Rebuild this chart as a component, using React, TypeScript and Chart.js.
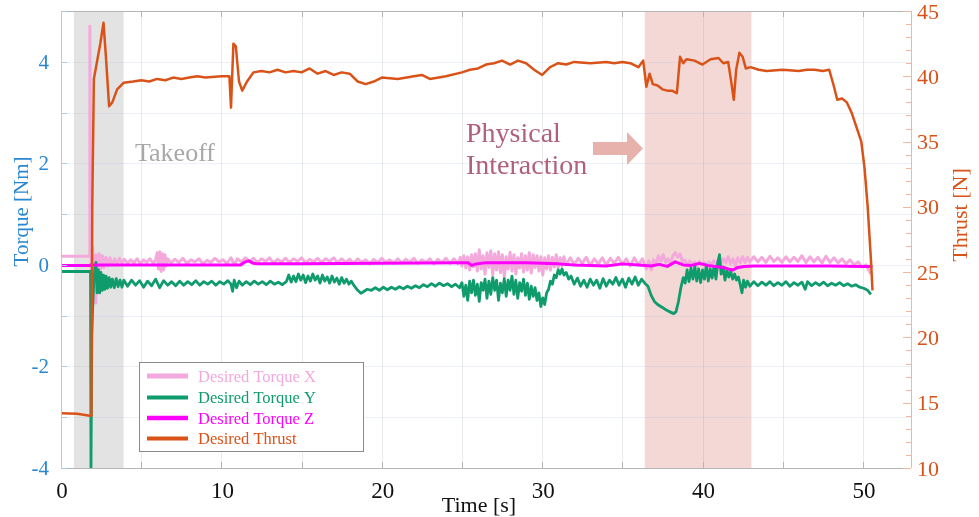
import React, { useEffect, useRef } from "react";
import { Chart, registerables } from "chart.js";

Chart.register(...registerables);

// ---------- DATA ----------
const xTicks = [0, 10, 20, 30, 40, 50];
const torqueTicks = [-4, -2, 0, 2, 4];
const thrustTicks = [10, 15, 20, 25, 30, 35, 40, 45];
const seriesNames = ["Desired Torque X", "Desired Torque Y", "Desired Torque Z", "Desired Thrust"];
const takeoffSpan = [0.8, 3.9];
const interactionSpan = [36.4, 43.05];

// Desired Thrust [N] vs time [s]
const thrust: [number, number][] = [
  [0, 14.2], [1.0, 14.15], [1.8, 14.0], [1.9, 14.0], [1.95, 30], [2.05, 39.8], [2.2, 40.8], [2.45, 42.5],
  [2.65, 44.1], [2.8, 41.5], [3.0, 37.7], [3.2, 38.0], [3.5, 39.0], [3.9, 39.5], [4.5, 39.6], [5.0, 39.7],
  [5.5, 39.6], [6.0, 39.8], [6.5, 39.7], [7.0, 39.9], [7.5, 39.8], [8.0, 39.9], [8.5, 40.0], [9.0, 39.9],
  [10.0, 40.0], [10.5, 40.0], [10.6, 37.6], [10.75, 42.5], [10.9, 42.3], [11.1, 39.6], [11.3, 38.9],
  [11.6, 39.6], [12.0, 40.3], [12.5, 40.4], [13.0, 40.3], [13.5, 40.5], [14.0, 40.3], [14.5, 40.4],
  [15.0, 40.3], [15.5, 40.6], [16.0, 40.2], [16.5, 40.4], [17.0, 40.1], [17.5, 40.3], [18.0, 40.2],
  [18.5, 39.6], [19.0, 39.4], [19.5, 39.6], [20.0, 39.9], [21.0, 39.8], [22.0, 40.0], [22.5, 40.1],
  [23.0, 39.8], [24.0, 40.0], [25.0, 40.3], [25.5, 40.5], [26.0, 40.6], [26.5, 40.9], [27.0, 41.0],
  [27.5, 41.2], [28.0, 40.9], [28.5, 41.2], [29.0, 41.0], [29.5, 40.5], [30.0, 40.1], [30.5, 40.7],
  [31.0, 41.0], [31.5, 40.9], [32.0, 41.1], [33.0, 41.0], [34.0, 41.1], [34.5, 41.0], [35.0, 41.1],
  [35.5, 41.0], [36.0, 40.7], [36.3, 41.2], [36.5, 39.2], [36.7, 40.2], [36.9, 39.4], [37.2, 39.3],
  [37.5, 39.0], [37.8, 38.9], [38.1, 38.9], [38.4, 38.7], [38.6, 41.5], [38.8, 41.0], [39.0, 41.3],
  [39.5, 41.2], [40.0, 40.9], [40.5, 41.3], [41.0, 41.4], [41.3, 41.0], [41.6, 41.1], [41.8, 39.5],
  [41.95, 38.2], [42.1, 40.5], [42.3, 41.8], [42.5, 41.5], [42.7, 40.6], [43.0, 40.7], [43.5, 40.5],
  [44.0, 40.4], [45.0, 40.5], [46.0, 40.4], [46.5, 40.5], [47.0, 40.5], [47.5, 40.4], [47.9, 40.5],
  [48.2, 39.2], [48.4, 38.2], [48.7, 38.3], [49.0, 38.0], [49.3, 37.2], [49.6, 36.1], [49.9, 35.0],
  [50.1, 33.0], [50.3, 30.0], [50.5, 26.0], [50.6, 23.6],
];

// Desired Torque X [Nm]
const torqueX: [number, number][] = [
  [0, 0.17], [1.76, 0.17], [1.8, 4.7], [1.84, 1.2], [1.9, -0.3], [1.97, 0.35], [2.05, -0.2], [2.12, -0.75],
  [2.18, 0.2], [2.28, -0.1], [2.38, 0.22], [2.48, -0.08], [2.58, 0.18], [2.68, -0.05], [2.8, 0.15],
  [2.92, -0.02], [3.05, 0.14], [3.2, 0.0], [3.35, 0.12], [3.5, 0.02], [3.65, 0.13], [3.8, 0.03], [3.95, 0.11],
  [4.15, 0.03], [4.35, 0.1], [4.55, 0.04], [4.75, 0.12], [4.95, 0.02], [5.15, 0.1], [5.35, 0.05], [5.55, 0.12],
  [5.75, 0.03], [5.9, 0.1], [6.0, 0.24], [6.08, -0.08], [6.16, 0.26], [6.24, -0.13], [6.32, 0.22], [6.4, -0.1],
  [6.48, 0.2], [6.56, -0.02], [6.65, 0.12], [6.85, 0.04], [7.1, 0.11], [7.35, 0.05], [7.6, 0.13], [7.85, 0.03],
  [8.1, 0.1], [8.35, 0.06], [8.6, 0.12], [8.85, 0.02], [9.1, 0.09], [9.35, 0.05], [9.6, 0.13], [9.85, 0.06],
  [10.1, 0.1], [10.35, 0.03], [10.6, 0.14], [10.8, 0.0], [11.0, 0.12], [11.25, 0.06], [11.5, 0.14],
  [11.75, 0.07], [12.0, 0.13], [12.25, 0.05], [12.5, 0.12], [12.75, 0.07], [13.0, 0.14], [13.25, 0.04],
  [13.5, 0.11], [13.75, 0.06], [14.0, 0.13], [14.25, 0.05], [14.5, 0.12], [14.75, 0.07], [15.0, 0.14],
  [15.25, 0.04], [15.5, 0.11], [15.75, 0.06], [16.0, 0.13], [16.25, 0.05], [16.5, 0.12], [16.75, 0.07],
  [17.0, 0.14], [17.25, 0.04], [17.5, 0.12], [17.75, 0.05], [18.0, 0.11], [18.25, 0.03], [18.5, 0.12],
  [18.75, 0.05], [19.0, 0.1], [19.25, 0.02], [19.5, 0.11], [19.75, 0.04], [20.0, 0.13], [20.25, 0.05],
  [20.5, 0.1], [20.75, 0.03], [21.0, 0.12], [21.25, 0.04], [21.5, 0.11], [21.75, 0.05], [22.0, 0.13],
  [22.25, 0.03], [22.5, 0.1], [22.75, 0.05], [23.0, 0.12], [23.25, 0.02], [23.5, 0.11], [23.75, 0.04],
  [24.0, 0.13], [24.25, 0.03], [24.5, 0.12], [24.75, 0.02], [24.9, 0.15], [25.0, -0.02], [25.12, 0.18],
  [25.24, -0.06], [25.36, 0.16], [25.48, -0.1], [25.6, 0.2], [25.72, -0.04], [25.84, 0.22], [25.96, -0.12],
  [26.08, 0.3], [26.2, -0.08], [26.32, 0.18], [26.44, -0.18], [26.56, 0.24], [26.68, -0.05], [26.8, 0.28],
  [26.92, -0.2], [27.04, 0.22], [27.16, -0.1], [27.28, 0.26], [27.4, -0.15], [27.52, 0.2], [27.64, -0.24],
  [27.76, 0.16], [27.88, -0.08], [28.0, 0.25], [28.12, -0.12], [28.24, 0.2], [28.36, -0.18], [28.48, 0.14],
  [28.6, -0.06], [28.72, 0.22], [28.84, -0.14], [28.96, 0.18], [29.08, -0.1], [29.2, 0.24], [29.32, -0.16],
  [29.44, 0.2], [29.56, -0.05], [29.68, 0.18], [29.8, -0.12], [29.92, 0.16], [30.04, -0.2], [30.16, 0.14],
  [30.28, -0.08], [30.4, 0.18], [30.52, -0.1], [30.64, 0.15], [30.76, -0.04], [30.88, 0.2], [31.0, -0.06],
  [31.12, 0.14], [31.24, -0.02], [31.36, 0.16], [31.5, 0.0], [31.75, 0.14], [32.0, 0.01], [32.25, 0.13],
  [32.5, 0.03], [32.75, 0.15], [33.0, -0.01], [33.25, 0.12], [33.5, 0.02], [33.75, 0.14], [34.0, 0.0],
  [34.25, 0.13], [34.5, 0.03], [34.75, 0.15], [35.0, 0.01], [35.25, 0.12], [35.5, -0.02], [35.75, 0.14],
  [36.0, 0.0], [36.25, 0.12], [36.5, -0.08], [36.65, 0.08], [36.8, -0.1], [36.95, 0.1], [37.1, 0.0],
  [37.25, 0.18], [37.4, 0.08], [37.55, 0.2], [37.7, 0.05], [37.85, 0.12], [38.0, 0.03], [38.15, 0.18],
  [38.3, 0.24], [38.45, 0.15], [38.6, 0.22], [38.75, 0.06], [38.9, 0.1], [39.05, -0.02], [39.2, 0.08],
  [39.35, 0.0], [39.5, 0.06], [39.65, -0.03], [39.8, 0.07], [39.95, 0.0], [40.1, 0.05], [40.25, -0.04],
  [40.4, 0.06], [40.55, 0.0], [40.7, 0.08], [40.85, 0.02], [41.0, 0.1], [41.15, 0.02], [41.3, 0.12],
  [41.45, 0.04], [41.6, 0.16], [41.75, 0.02], [41.9, 0.12], [42.05, -0.02], [42.2, 0.14], [42.35, 0.04],
  [42.5, 0.16], [42.65, 0.05], [42.8, 0.15], [42.95, 0.06], [43.2, 0.16], [43.45, 0.06], [43.7, 0.15],
  [43.95, 0.05], [44.2, 0.17], [44.45, 0.07], [44.7, 0.14], [44.95, 0.05], [45.2, 0.16], [45.45, 0.06],
  [45.7, 0.15], [45.95, 0.07], [46.2, 0.18], [46.45, 0.05], [46.7, 0.16], [46.95, 0.06], [47.2, 0.15],
  [47.45, 0.04], [47.7, 0.17], [47.95, 0.05], [48.2, 0.14], [48.45, 0.04], [48.7, 0.12], [48.95, 0.02],
  [49.2, 0.1], [49.45, 0.0], [49.7, 0.06], [49.95, -0.04], [50.2, 0.0], [50.4, -0.12], [50.5, -0.18],
];

// Desired Torque Y [Nm]
const torqueY: [number, number][] = [
  [0, -0.13], [1.84, -0.13], [1.87, -4.0], [1.92, -1.4], [1.98, -0.8], [2.05, -0.3], [2.12, -0.05],
  [2.18, 0.05], [2.25, -0.55], [2.33, -0.1], [2.41, -0.55], [2.49, -0.15], [2.57, -0.5], [2.65, -0.2],
  [2.73, -0.48], [2.81, -0.22], [2.9, -0.46], [3.0, -0.25], [3.1, -0.44], [3.2, -0.28], [3.32, -0.45],
  [3.44, -0.27], [3.56, -0.43], [3.68, -0.3], [3.8, -0.44], [3.92, -0.3], [4.15, -0.42], [4.4, -0.3],
  [4.65, -0.4], [4.9, -0.31], [5.15, -0.44], [5.4, -0.32], [5.65, -0.41], [5.9, -0.28], [6.15, -0.45],
  [6.4, -0.31], [6.65, -0.4], [6.9, -0.33], [7.15, -0.41], [7.4, -0.32], [7.65, -0.4], [7.9, -0.33],
  [8.15, -0.39], [8.4, -0.31], [8.65, -0.4], [8.9, -0.33], [9.15, -0.38], [9.4, -0.32], [9.65, -0.4],
  [9.9, -0.33], [10.15, -0.38], [10.4, -0.31], [10.6, -0.38], [10.7, -0.52], [10.8, -0.3], [10.95, -0.45],
  [11.1, -0.32], [11.3, -0.4], [11.55, -0.33], [11.8, -0.39], [12.05, -0.32], [12.3, -0.38], [12.55, -0.33],
  [12.8, -0.39], [13.05, -0.32], [13.3, -0.38], [13.55, -0.34], [13.8, -0.39], [14.05, -0.33], [14.2, -0.2],
  [14.35, -0.34], [14.5, -0.22], [14.65, -0.33], [14.8, -0.18], [14.95, -0.3], [15.1, -0.2], [15.25, -0.35],
  [15.4, -0.22], [15.55, -0.32], [15.7, -0.18], [15.85, -0.3], [16.0, -0.22], [16.15, -0.36], [16.3, -0.2],
  [16.45, -0.32], [16.6, -0.24], [16.75, -0.36], [16.9, -0.22], [17.05, -0.34], [17.2, -0.26], [17.35, -0.38],
  [17.5, -0.25], [17.65, -0.36], [17.8, -0.28], [17.95, -0.38], [18.1, -0.32], [18.3, -0.42], [18.5, -0.5],
  [18.7, -0.56], [18.9, -0.52], [19.1, -0.48], [19.35, -0.5], [19.6, -0.45], [19.85, -0.5], [20.1, -0.44],
  [20.35, -0.49], [20.6, -0.44], [20.85, -0.48], [21.1, -0.43], [21.35, -0.47], [21.6, -0.42], [21.85, -0.46],
  [22.1, -0.41], [22.35, -0.45], [22.6, -0.39], [22.85, -0.43], [23.1, -0.37], [23.35, -0.42], [23.6, -0.36],
  [23.85, -0.41], [24.1, -0.37], [24.35, -0.43], [24.6, -0.38], [24.85, -0.45], [25.0, -0.35], [25.12, -0.62],
  [25.24, -0.4], [25.36, -0.7], [25.48, -0.32], [25.6, -0.55], [25.72, -0.3], [25.84, -0.6], [25.96, -0.38],
  [26.08, -0.72], [26.2, -0.35], [26.32, -0.5], [26.44, -0.28], [26.56, -0.66], [26.68, -0.32], [26.8, -0.58],
  [26.92, -0.25], [27.04, -0.5], [27.16, -0.3], [27.28, -0.7], [27.4, -0.36], [27.52, -0.55], [27.64, -0.27],
  [27.76, -0.62], [27.88, -0.3], [28.0, -0.5], [28.12, -0.22], [28.24, -0.58], [28.36, -0.3], [28.48, -0.66],
  [28.6, -0.35], [28.72, -0.52], [28.84, -0.28], [28.96, -0.6], [29.08, -0.36], [29.2, -0.68], [29.32, -0.42],
  [29.44, -0.62], [29.56, -0.45], [29.68, -0.7], [29.8, -0.55], [29.92, -0.82], [30.04, -0.65], [30.16, -0.78],
  [30.28, -0.55], [30.4, -0.48], [30.52, -0.32], [30.64, -0.38], [30.76, -0.2], [30.88, -0.25], [31.0, -0.1],
  [31.12, -0.18], [31.24, -0.08], [31.36, -0.2], [31.5, -0.15], [31.65, -0.28], [31.8, -0.22], [32.0, -0.38],
  [32.2, -0.26], [32.4, -0.42], [32.6, -0.3], [32.8, -0.44], [33.0, -0.28], [33.2, -0.4], [33.4, -0.3],
  [33.6, -0.46], [33.8, -0.27], [34.0, -0.42], [34.2, -0.3], [34.4, -0.38], [34.6, -0.25], [34.8, -0.4],
  [35.0, -0.28], [35.2, -0.44], [35.4, -0.26], [35.6, -0.38], [35.8, -0.24], [36.0, -0.4], [36.2, -0.28],
  [36.4, -0.36], [36.6, -0.42], [36.8, -0.6], [37.0, -0.72], [37.2, -0.78], [37.4, -0.82], [37.6, -0.86],
  [37.8, -0.9], [38.0, -0.93], [38.2, -0.96], [38.35, -0.92], [38.5, -0.72], [38.65, -0.45], [38.8, -0.25],
  [38.92, -0.36], [39.04, -0.1], [39.16, -0.33], [39.28, -0.06], [39.4, -0.28], [39.52, -0.03], [39.64, -0.32],
  [39.76, -0.08], [39.88, -0.35], [40.0, -0.1], [40.12, -0.28], [40.24, 0.0], [40.36, -0.32], [40.48, -0.08],
  [40.6, -0.26], [40.72, -0.03], [40.84, -0.28], [40.96, 0.06], [41.06, 0.2], [41.16, -0.18], [41.28, -0.04],
  [41.4, -0.3], [41.52, -0.1], [41.64, -0.24], [41.76, -0.13], [41.88, -0.28], [42.0, -0.18], [42.12, -0.3],
  [42.24, -0.24], [42.36, -0.4], [42.46, -0.55], [42.56, -0.3], [42.68, -0.44], [42.8, -0.32], [42.95, -0.42],
  [43.2, -0.33], [43.45, -0.41], [43.7, -0.34], [43.95, -0.4], [44.2, -0.33], [44.45, -0.41], [44.7, -0.35],
  [44.95, -0.4], [45.2, -0.33], [45.45, -0.42], [45.7, -0.35], [45.95, -0.4], [46.2, -0.34], [46.4, -0.48],
  [46.55, -0.33], [46.8, -0.41], [47.05, -0.35], [47.3, -0.4], [47.55, -0.34], [47.8, -0.41], [48.05, -0.36],
  [48.3, -0.4], [48.55, -0.35], [48.8, -0.41], [49.05, -0.37], [49.3, -0.42], [49.55, -0.39], [49.8, -0.44],
  [50.05, -0.46], [50.3, -0.5], [50.5, -0.58],
];

// Desired Torque Z [Nm]
const torqueZ: [number, number][] = [
  [0, -0.01], [1.8, -0.01], [1.85, 0.0], [5, 0.0], [10, 0.0], [11.2, 0.0], [11.5, 0.06], [11.7, 0.08],
  [12.0, 0.03], [12.3, 0.02], [15, 0.02], [20, 0.03], [25, 0.04], [25.4, 0.04], [25.6, -0.01], [25.9, 0.02],
  [26.5, 0.04], [28, 0.04], [29, 0.04], [30, 0.03], [31, 0.02], [32, 0.0], [33, -0.01], [34, -0.02],
  [35, 0.02], [36, 0.0], [36.8, -0.02], [37.3, 0.01], [37.8, -0.03], [38.3, 0.06], [38.8, 0.0], [39.3, -0.01],
  [39.8, 0.03], [40.3, -0.01], [40.8, -0.03], [41.3, -0.05], [41.6, -0.08], [41.9, -0.1], [42.2, -0.05],
  [42.6, -0.03], [43.2, -0.02], [45, -0.02], [48, -0.02], [50, -0.03], [50.6, -0.03],
];

// ---------- STYLE ----------
const SERIF = '"Liberation Serif", "Times New Roman", serif';
const C_X = "#f3a9dc";
const C_Y = "#0f9b6c";
const C_Z = "#ff00ff";
const C_T = "#d95319";
const C_BLUE = "#2a87d0";

const toPts = (arr: [number, number][]) => arr.map(([x, y]) => ({ x, y }));

const overlay = {
  id: "overlay",
  beforeDatasetsDraw(chart: any) {
    const { ctx, chartArea: a, scales } = chart;
    const xs = scales.x, yl = scales.y;
    ctx.save();
    ctx.fillStyle = "#e3e3e3";
    let x0 = xs.getPixelForValue(takeoffSpan[0]), x1 = xs.getPixelForValue(takeoffSpan[1]);
    ctx.fillRect(x0, a.top, x1 - x0, a.bottom - a.top);
    ctx.fillStyle = "#f3d8d6";
    x0 = xs.getPixelForValue(interactionSpan[0]); x1 = xs.getPixelForValue(interactionSpan[1]);
    ctx.fillRect(x0, a.top, x1 - x0, a.bottom - a.top);
    ctx.lineWidth = 1;
    ctx.strokeStyle = "rgba(150,180,210,0.18)";
    for (let v = -3; v <= 4; v++) {
      const y = Math.round(yl.getPixelForValue(v)) + 0.5;
      ctx.beginPath(); ctx.moveTo(a.left, y); ctx.lineTo(a.right, y); ctx.stroke();
    }
    ctx.strokeStyle = "rgba(140,150,165,0.2)";
    for (let v = 5; v <= 50; v += 5) {
      const x = Math.round(xs.getPixelForValue(v)) + 0.5;
      ctx.beginPath(); ctx.moveTo(x, a.top); ctx.lineTo(x, a.bottom); ctx.stroke();
    }
    ctx.restore();
  },
  afterDatasetsDraw(chart: any) {
    const { ctx, chartArea: a, scales } = chart;
    const xs = scales.x, yl = scales.y, yr = scales.y2;
    ctx.save();
    ctx.lineWidth = 1;
    ctx.strokeStyle = "#b4b4b4";
    ctx.beginPath(); ctx.moveTo(a.left, a.top + 0.5); ctx.lineTo(a.right, a.top + 0.5); ctx.stroke();
    ctx.beginPath(); ctx.moveTo(a.left, a.bottom + 0.5); ctx.lineTo(a.right, a.bottom + 0.5); ctx.stroke();
    for (let v = 0; v <= 50; v += 5) {
      const x = Math.round(xs.getPixelForValue(v)) + 0.5;
      ctx.beginPath(); ctx.moveTo(x, a.bottom); ctx.lineTo(x, a.bottom - 6); ctx.stroke();
      ctx.beginPath(); ctx.moveTo(x, a.top); ctx.lineTo(x, a.top + 6); ctx.stroke();
    }
    ctx.strokeStyle = "#a9cdea";
    ctx.beginPath(); ctx.moveTo(a.left + 0.5, a.top); ctx.lineTo(a.left + 0.5, a.bottom); ctx.stroke();
    for (let v = -4; v <= 5; v++) {
      const y = Math.round(yl.getPixelForValue(v)) + 0.5;
      ctx.beginPath(); ctx.moveTo(a.left, y); ctx.lineTo(a.left + 6, y); ctx.stroke();
    }
    ctx.strokeStyle = "#efb89c";
    ctx.beginPath(); ctx.moveTo(a.right + 0.5, a.top); ctx.lineTo(a.right + 0.5, a.bottom); ctx.stroke();
    for (let v = 10; v <= 45; v++) {
      const y = Math.round(yr.getPixelForValue(v)) + 0.5;
      const len = v % 5 === 0 ? 8 : 5;
      ctx.beginPath(); ctx.moveTo(a.right, y); ctx.lineTo(a.right - len, y); ctx.stroke();
    }
    ctx.textBaseline = "alphabetic";
    ctx.font = `23px ${SERIF}`;
    ctx.fillStyle = "#111";
    ctx.textAlign = "center";
    for (const v of xTicks) ctx.fillText(String(v), xs.getPixelForValue(v) + 1, 498);
    ctx.font = `21px ${SERIF}`;
    ctx.fillStyle = C_BLUE;
    ctx.textAlign = "right";
    for (const v of torqueTicks) ctx.fillText(String(v), 49, yl.getPixelForValue(v) + 7);
    ctx.font = `22px ${SERIF}`;
    ctx.fillStyle = C_T;
    ctx.textAlign = "left";
    for (const v of thrustTicks) ctx.fillText(String(v), 917, yr.getPixelForValue(v) + 7.5);
    ctx.font = `22px ${SERIF}`;
    ctx.fillStyle = "#111";
    ctx.textAlign = "center";
    ctx.fillText("Time [s]", 479, 512);
    ctx.save();
    ctx.translate(28, 211.5);
    ctx.rotate(-Math.PI / 2);
    ctx.font = `21px ${SERIF}`;
    ctx.fillStyle = C_BLUE;
    ctx.fillText("Torque [Nm]", 0, 0);
    ctx.restore();
    ctx.save();
    ctx.translate(967, 215);
    ctx.rotate(-Math.PI / 2);
    ctx.font = `22px ${SERIF}`;
    ctx.fillStyle = C_T;
    ctx.fillText("Thrust [N]", 0, 0);
    ctx.restore();
    ctx.textAlign = "left";
    ctx.font = `26px ${SERIF}`;
    ctx.fillStyle = "#a8a8a8";
    ctx.fillText("Takeoff", 135, 161);
    ctx.font = `28px ${SERIF}`;
    ctx.fillStyle = "#b0607c";
    ctx.fillText("Physical", 466, 142);
    ctx.fillText("Interaction", 466, 174);
    ctx.fillStyle = "#e8b2ac";
    ctx.beginPath();
    ctx.moveTo(593, 142); ctx.lineTo(627, 142); ctx.lineTo(627, 132); ctx.lineTo(643, 148.5);
    ctx.lineTo(627, 165); ctx.lineTo(627, 155); ctx.lineTo(593, 155); ctx.closePath();
    ctx.fill();
    ctx.fillStyle = "#ffffff";
    ctx.fillRect(139, 362, 224, 89);
    ctx.strokeStyle = "#8a8a8a";
    ctx.strokeRect(139.5, 362.5, 224, 89);
    const cols = [C_X, C_Y, C_Z, C_T];
    const widths = [5, 4, 4.5, 4];
    const rows = [376, 397.5, 418, 438.5];
    ctx.font = `16.5px ${SERIF}`;
    seriesNames.forEach((name, i) => {
      ctx.strokeStyle = cols[i];
      ctx.lineWidth = widths[i];
      ctx.beginPath(); ctx.moveTo(147, rows[i]); ctx.lineTo(188, rows[i]); ctx.stroke();
      ctx.fillStyle = cols[i];
      ctx.fillText(name, 198, rows[i] + 5.5);
    });
    ctx.restore();
  },
};

export default function App() {
  const ref = useRef<HTMLCanvasElement | null>(null);
  useEffect(() => {
    if (!ref.current) return;
    const chart = new Chart(ref.current, {
      type: "line",
      data: {
        datasets: [
          { label: seriesNames[0], data: toPts(torqueX), yAxisID: "y", borderColor: C_X, borderWidth: 3, order: 4 },
          { label: seriesNames[1], data: toPts(torqueY), yAxisID: "y", borderColor: C_Y, borderWidth: 2.8, order: 3 },
          { label: seriesNames[2], data: toPts(torqueZ), yAxisID: "y", borderColor: C_Z, borderWidth: 3, order: 2 },
          { label: seriesNames[3], data: toPts(thrust), yAxisID: "y2", borderColor: C_T, borderWidth: 2.5, order: 1 },
        ] as any,
      },
      options: {
        animation: false,
        responsive: false,
        maintainAspectRatio: false,
        layout: { padding: { top: 11, left: 61, right: 68, bottom: 49 } },
        elements: { point: { radius: 0 }, line: { tension: 0, borderJoinStyle: "round", fill: false } },
        plugins: { legend: { display: false }, tooltip: { enabled: false } },
        scales: {
          x: { type: "linear", min: 0, max: 53, display: false },
          y: { type: "linear", min: -4, max: 5, display: false },
          y2: { type: "linear", min: 10, max: 45, display: false, position: "right" },
        },
      },
      plugins: [overlay],
    });
    return () => chart.destroy();
  }, []);
  return (
    <div style={{ position: "fixed", left: 0, top: 0, width: 979, height: 517, background: "#fff" }}>
      <canvas ref={ref} width={979} height={517} style={{ display: "block" }} />
    </div>
  );
}
